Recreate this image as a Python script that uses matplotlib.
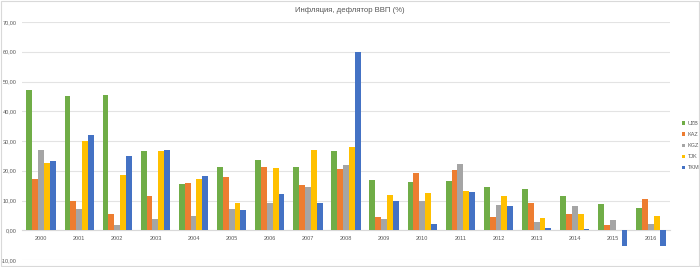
import numpy as np
import matplotlib.pyplot as plt

plt.rcParams['font.family'] = ['Liberation Sans', 'DejaVu Sans']

years = [str(y) for y in range(2000, 2017)]
uzb = [47.3, 45.0, 45.4, 26.5, 15.4, 21.1, 23.5, 21.1, 26.6, 17.0, 16.2, 16.4, 14.6, 14.0, 11.6, 8.8, 7.4]
kaz = [17.2, 10.0, 5.5, 11.5, 16.0, 17.8, 21.3, 15.3, 20.7, 4.3, 19.3, 20.2, 4.5, 9.2, 5.5, 1.7, 10.6]
kgz = [26.9, 7.1, 1.8, 3.7, 4.8, 7.0, 9.2, 14.6, 21.9, 3.8, 9.9, 22.2, 8.4, 2.8, 8.1, 3.3, 2.2]
tjk = [22.5, 30.0, 18.7, 26.7, 17.2, 9.2, 20.9, 27.1, 28.0, 11.9, 12.4, 13.1, 11.6, 4.0, 5.3, np.nan, 4.9]
tkm = [23.3, 32.0, 24.9, 26.9, 18.2, 6.7, 12.1, 9.1, 59.8, 9.7, 2.1, 12.8, 8.0, 0.9, 0.4, -5.4, -5.2]

series = [("UZB", uzb, "#70AD47"), ("KAZ", kaz, "#ED7D31"), ("KGZ", kgz, "#A5A5A5"),
          ("TJK", tjk, "#FFC000"), ("TKM", tkm, "#4472C4")]

fig = plt.figure(figsize=(7, 2.67), dpi=100)
ax = fig.add_axes([22 / 700, 1 - 260 / 267, 648 / 700, 238 / 267])

x = np.arange(len(years))
w = 0.154
for i, (name, vals, color) in enumerate(series):
    ax.bar(x + (i - 2) * w, vals, width=w, color=color, label=name, zorder=3)

for s in ["top", "right", "left"]:
    ax.spines[s].set_visible(False)
ax.spines["bottom"].set_position(("data", 0))
ax.spines["bottom"].set_color("#D9D9D9")
ax.spines["bottom"].set_linewidth(0.8)

ax.set_xlim(-0.5, len(years) - 0.5)
ax.set_ylim(-10, 70)
yt = np.arange(-10, 71, 10)
ax.set_yticks(yt)
ax.set_yticklabels([f"{v:.2f}".replace(".", ",") for v in yt], fontsize=4, color="#595959")
ax.set_xticks(x)
ax.set_xticklabels(years, fontsize=4, color="#595959")
ax.tick_params(length=0)
ax.tick_params(axis="y", pad=4)
ax.tick_params(axis="x", pad=4)
ax.grid(axis="y", color="#E3E3E3", linewidth=0.8, zorder=0)

fig.text(0.5, 1 - 11 / 267, "Инфляция, дефлятор ВВП (%)", ha="center", va="center",
         fontsize=5.6, color="#595959")

fig.legend(loc="upper left", bbox_to_anchor=(677 / 700, 1 - 116 / 267), frameon=False,
           fontsize=4, handlelength=0.6, handleheight=0.6, handletextpad=0.4,
           labelspacing=1.1, labelcolor="#595959")

fig.patches.append(plt.Rectangle((0.001, 0.002), 0.998, 0.996, transform=fig.transFigure,
                                 fill=False, edgecolor="#D9D9D9", linewidth=0.8))

fig.savefig("out.png", dpi=100)
